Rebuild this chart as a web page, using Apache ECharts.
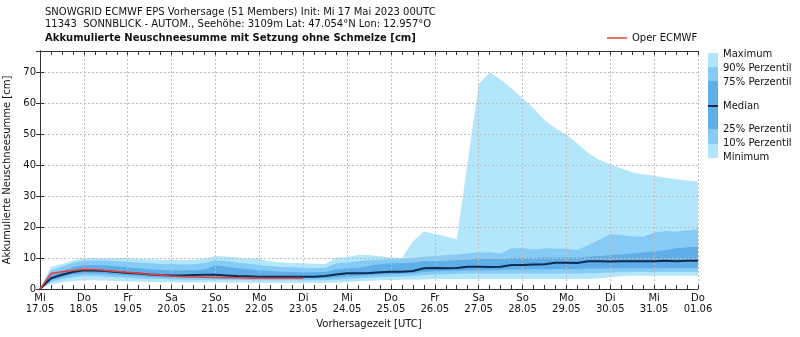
<!DOCTYPE html>
<html>
<head>
<meta charset="utf-8">
<script src="https://cdn.jsdelivr.net/npm/echarts@6/dist/echarts.min.js"></script>
<style>html,body{margin:0;padding:0;background:#fff}#c{width:800px;height:337px}</style>
</head>
<body>
<div id="c"></div>
<script>
// 6-hourly steps from Mi 17.05 00UTC to Do 01.06 00UTC (61 values)
const stepHours = 6;
const dayLabels = ['Mi\n17.05','Do\n18.05','Fr\n19.05','Sa\n20.05','So\n21.05','Mo\n22.05','Di\n23.05','Mi\n24.05','Do\n25.05','Fr\n26.05','Sa\n27.05','So\n28.05','Mo\n29.05','Di\n30.05','Mi\n31.05','Do\n01.06'];

const maximum = [0,7.2,8.0,9.2,10.0,10.0,10.0,10.0,10.0,9.7,9.6,9.5,9.5,9.3,9.5,9.8,10.7,10.5,10.2,9.9,9.6,9.0,8.6,8.4,8.3,8.2,8.1,10.2,10.3,11.1,11.0,10.6,10.2,10.0,15.4,18.6,17.8,17.0,16.1,41.0,66.2,70.1,67.8,64.9,61.7,58.5,54.7,52.0,50.0,47.1,43.9,41.8,40.4,39.0,37.8,37.1,36.6,36.0,35.5,35.1,34.8];
const p90 = [0,6.0,7.2,8.5,9.2,9.2,9.1,9.0,8.8,8.5,8.3,8.1,8.0,7.9,8.0,8.3,9.3,9.0,8.6,8.2,7.8,7.4,7.1,7.0,6.9,6.8,6.9,8.3,8.6,9.0,9.3,9.5,9.6,9.7,10.0,10.4,10.7,10.9,11.2,11.5,11.8,11.8,11.5,13.2,13.2,12.8,13.2,13.0,13.0,12.6,14.2,15.9,17.7,17.5,17.1,16.9,18.2,18.8,18.5,18.9,19.3];
const p75 = [0,4.5,5.8,7.0,7.8,7.8,7.7,7.4,7.0,6.7,6.4,6.2,6.0,6.0,6.1,6.3,7.6,7.2,6.8,6.4,6.0,5.8,5.6,5.5,5.4,5.4,5.5,6.3,6.6,6.8,7.5,8.0,8.3,8.3,8.5,9.0,9.0,9.1,9.3,9.5,9.8,9.8,9.6,10.0,10.0,10.1,10.2,10.2,10.2,10.2,10.5,10.7,11.0,11.2,11.5,11.8,12.1,12.5,13.2,13.5,13.7];
const median = [0,3.5,4.6,5.5,6.1,6.0,5.8,5.5,5.2,5.0,4.7,4.5,4.4,4.4,4.5,4.6,4.6,4.4,4.2,4.1,4.0,4.0,4.0,4.0,4.0,4.0,4.2,4.7,5.1,5.1,5.2,5.4,5.6,5.6,5.8,6.7,6.8,6.7,6.8,7.2,7.2,7.1,7.2,7.8,7.8,7.9,8.0,8.5,8.5,8.4,9.0,9.0,8.9,9.0,9.0,9.0,9.0,9.1,9.0,9.1,9.1];
const p25 = [0,2.8,3.8,4.6,5.0,5.0,4.8,4.6,4.4,4.2,4.0,3.8,3.7,3.7,3.7,3.8,3.8,3.7,3.6,3.5,3.5,3.5,3.5,3.5,3.5,3.5,3.5,3.7,4.0,4.2,4.4,4.6,4.8,4.9,5.0,5.5,5.7,5.8,5.9,6.0,6.1,6.1,6.2,6.3,6.3,6.4,6.4,6.5,6.5,6.5,6.6,6.6,6.6,6.7,6.7,6.7,6.7,6.8,6.8,6.8,6.8];
const p10 = [0,2.3,3.2,3.8,4.2,4.2,4.0,3.8,3.6,3.4,3.3,3.2,3.1,3.0,3.0,3.0,3.0,3.0,2.9,2.9,2.8,2.8,2.8,2.8,2.8,2.8,2.8,3.0,3.2,3.4,3.6,3.8,4.0,4.0,4.2,4.5,4.7,4.8,4.9,5.0,5.0,5.0,5.0,5.0,5.0,5.0,5.0,5.0,5.0,5.0,5.1,5.2,5.3,5.4,5.5,5.5,5.5,5.6,5.6,5.6,5.6];
const minimum = [0,1.5,2.2,2.6,2.8,2.8,2.7,2.6,2.5,2.4,2.3,2.3,2.2,2.2,2.2,2.2,2.2,2.1,2.1,2.1,2.0,2.0,2.0,2.0,2.0,2.0,2.0,2.1,2.3,2.5,2.7,2.8,2.9,3.0,3.0,3.1,3.2,3.2,3.2,3.2,3.2,3.2,3.2,3.2,3.2,3.2,3.2,3.2,3.2,3.2,3.2,3.5,3.8,4.1,4.3,4.3,4.3,4.3,4.3,4.3,4.3];
const oper = [0,5.0,5.6,6.0,6.4,6.3,6.0,5.7,5.4,5.1,4.8,4.5,4.2,4.0,3.9,3.8,3.7,3.6,3.6,3.5,3.5,3.5,3.5,3.5,3.5];

const cLight = '#b1e6fb', cMid = '#85cbf5', cDark = '#60aee8', cMedian = '#0d2d50', cOper = '#e8413b';
const FONT = 'DejaVu Sans';
const gridColor = '#bdbdbd';

function pts(arr){ return arr.map((v,i)=>[i*stepHours, v]); }

// each band: area from curve down to 0, painted in order top curve first
function area(name, arr, color, z){
  return {name, type:'line', data:pts(arr), symbol:'none', silent:true,
    lineStyle:{width:0, opacity:0}, areaStyle:{color, opacity:1, origin:'start'}, z};
}

const chart = echarts.init(document.getElementById('c'), null, {renderer:'canvas'});
const axisCommon = {
  type:'value', min:0, max:360, interval:24, z:10,
  axisLine:{show:true, onZero:false, lineStyle:{color:'#333', width:1}},
  axisTick:{show:true, inside:true, length:4, lineStyle:{color:'#333'}},
  minorTick:{show:true, splitNumber:4, length:4, lineStyle:{color:'#333'}},
};
chart.setOption({
  animation:false,
  textStyle:{fontFamily:FONT},
  grid:{left:40, right:102, top:51, bottom:48, show:false, containLabel:false, outerBoundsMode:'none'},
  title:[
    {text:'SNOWGRID ECMWF EPS Vorhersage (51 Members) Init: Mi 17 Mai 2023 00UTC', left:40, top:2,
     textStyle:{fontFamily:FONT, fontSize:10, fontWeight:'normal', color:'#111'}},
    {text:'11343  SONNBLICK - AUTOM., Seehöhe: 3109m Lat: 47.054°N Lon: 12.957°O', left:40, top:14.5,
     textStyle:{fontFamily:FONT, fontSize:10, fontWeight:'normal', color:'#111'}},
    {text:'Akkumulierte Neuschneesumme mit Setzung ohne Schmelze [cm]', left:40, top:28,
     textStyle:{fontFamily:FONT, fontSize:10, fontWeight:'bold', color:'#111'}}
  ],
  legend:{data:[{name:'Oper ECMWF', icon:'rect'}], left:602, top:28, itemWidth:20, itemHeight:1.5,
    textStyle:{fontFamily:FONT, fontSize:10, color:'#111'}, itemGap:5},
  xAxis:[
    Object.assign({}, axisCommon, {position:'bottom',
      name:'Vorhersagezeit [UTC]', nameLocation:'middle', nameGap:30,
      nameTextStyle:{fontFamily:FONT, fontSize:10, color:'#111'},
      axisLabel:{fontFamily:FONT, fontSize:10, color:'#111', lineHeight:11, margin:4,
        formatter:(v)=>dayLabels[Math.round(v/24)] || ''},
      splitLine:{show:true, lineStyle:{color:gridColor, type:[2,2], width:1}}}),
    Object.assign({}, axisCommon, {position:'top', axisLabel:{show:false}, splitLine:{show:false}})
  ],
  yAxis:[
    {type:'value', min:0, max:77, interval:10, position:'left', z:10,
     name:'Akkumulierte Neuschneesumme [cm]', nameLocation:'middle', nameGap:22,
     nameTextStyle:{fontFamily:FONT, fontSize:10, color:'#111'},
     axisLine:{show:true, lineStyle:{color:'#333'}},
     axisTick:{show:true, inside:true, length:4, lineStyle:{color:'#333'}},
     axisLabel:{fontFamily:FONT, fontSize:10, color:'#111', margin:4, showMaxLabel:false,
       formatter:(v)=> (v%10===0 ? String(v) : '')},
     splitLine:{show:true, lineStyle:{color:gridColor, type:[2,2], width:1}}},
    {type:'value', min:0, max:77, interval:10, position:'right', z:10,
     axisLine:{show:true, lineStyle:{color:'#333'}},
     axisTick:{show:true, inside:true, length:4, lineStyle:{color:'#333'}},
     axisLabel:{show:false}, splitLine:{show:false}}
  ],
  series:[
    area('Maximum', maximum, cLight, 1),
    area('90% Perzentil', p90, cMid, 2),
    area('75% Perzentil', p75, cDark, 3),
    area('25% Perzentil', p25, cMid, 4),
    area('10% Perzentil', p10, cLight, 5),
    area('Minimum', minimum, '#ffffff', 6),
    {name:'Median', type:'line', data:pts(median), symbol:'none', silent:true,
     lineStyle:{color:cMedian, width:2}, z:12},
    {name:'Oper ECMWF', type:'line', data:pts(oper), symbol:'none', silent:true,
     lineStyle:{color:cOper, width:1.5}, itemStyle:{color:cOper}, z:13}
  ],
  graphic:[
    {type:'rect', shape:{x:708, y:53, width:10, height:14}, style:{fill:cLight}},
    {type:'rect', shape:{x:708, y:67, width:10, height:14}, style:{fill:cMid}},
    {type:'rect', shape:{x:708, y:81, width:10, height:48}, style:{fill:cDark}},
    {type:'rect', shape:{x:708, y:105, width:10, height:2}, style:{fill:cMedian}},
    {type:'rect', shape:{x:708, y:129, width:10, height:15}, style:{fill:cMid}},
    {type:'rect', shape:{x:708, y:144, width:10, height:14}, style:{fill:cLight}},
    {type:'text', x:723, y:54, style:{text:'Maximum', font:'10px "DejaVu Sans"', fill:'#111', verticalAlign:'middle'}},
    {type:'text', x:723, y:68, style:{text:'90% Perzentil', font:'10px "DejaVu Sans"', fill:'#111', verticalAlign:'middle'}},
    {type:'text', x:723, y:82, style:{text:'75% Perzentil', font:'10px "DejaVu Sans"', fill:'#111', verticalAlign:'middle'}},
    {type:'text', x:723, y:106.5, style:{text:'Median', font:'10px "DejaVu Sans"', fill:'#111', verticalAlign:'middle'}},
    {type:'text', x:723, y:129, style:{text:'25% Perzentil', font:'10px "DejaVu Sans"', fill:'#111', verticalAlign:'middle'}},
    {type:'text', x:723, y:143.5, style:{text:'10% Perzentil', font:'10px "DejaVu Sans"', fill:'#111', verticalAlign:'middle'}},
    {type:'text', x:723, y:157, style:{text:'Minimum', font:'10px "DejaVu Sans"', fill:'#111', verticalAlign:'middle'}}
  ]
});
</script>
</body>
</html>
